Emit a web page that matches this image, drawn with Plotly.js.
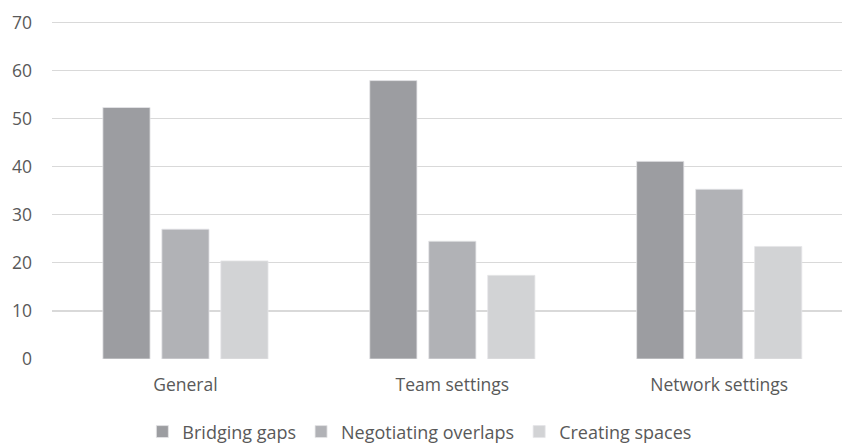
<!DOCTYPE html>
<html>
<head>
<meta charset="utf-8">
<script src="https://cdn.plot.ly/plotly-3.0.1.min.js"></script>
<style>html,body{margin:0;padding:0;background:#fff;}#chart{width:842px;height:443px;}</style>
</head>
<body>
<div id="chart"></div>
<script>
const categories = ["General", "Team settings", "Network settings"];
const seriesNames = ["Bridging gaps", "Negotiating overlaps", "Creating spaces"];
const bridgingGaps = [52.3, 57.9, 41.1];
const negotiatingOverlaps = [27.0, 24.5, 35.3];
const creatingSpaces = [20.4, 17.4, 23.4];
const yTicks = [0, 10, 20, 30, 40, 50, 60, 70];
const colors = ["#9c9da1", "#b1b2b6", "#d2d3d5"];

const values = [bridgingGaps, negotiatingOverlaps, creatingSpaces];
const traces = values.map((v, i) => ({
  type: "bar",
  name: seriesNames[i],
  x: categories,
  y: v,
  marker: {color: colors[i], line: {color: "#e6e6e8", width: 0.8}},
  hoverinfo: "none"
}));

const layout = {
  width: 842, height: 443,
  margin: {l: 52, r: 0, t: 20, b: 84, autoexpand: false},
  paper_bgcolor: "#fff", plot_bgcolor: "#fff",
  font: {family: "Open Sans, Liberation Sans, sans-serif", color: "#595959", size: 17},
  barmode: "group",
  bargap: 0.337,
  bargroupgap: 0.2,
  xaxis: {
    range: [-0.5, 2.46],
    showgrid: false, zeroline: false, showline: false,
    ticks: "", ticklabelstandoff: 13,
    tickfont: {size: 17.5, color: "#595959"}
  },
  yaxis: {
    range: [0, 70.5], tickvals: yTicks,
    showgrid: true, gridcolor: "#d9d9d9", gridwidth: 1.3,
    zeroline: false, showline: false, ticks: "",
    ticklabelstandoff: 19,
    tickfont: {size: 17.5, color: "#595959"}
  },
  showlegend: true,
  legend: {
    orientation: "h", x: 0.465, xanchor: "center", y: -0.215, yanchor: "middle",
    bgcolor: "rgba(0,0,0,0)",
    font: {size: 18, color: "#595959"}, itemwidth: 30, tracegroupgap: 0
  }
};
Plotly.newPlot("chart", traces, layout, {displayModeBar: false, staticPlot: true});
</script>
</body>
</html>
